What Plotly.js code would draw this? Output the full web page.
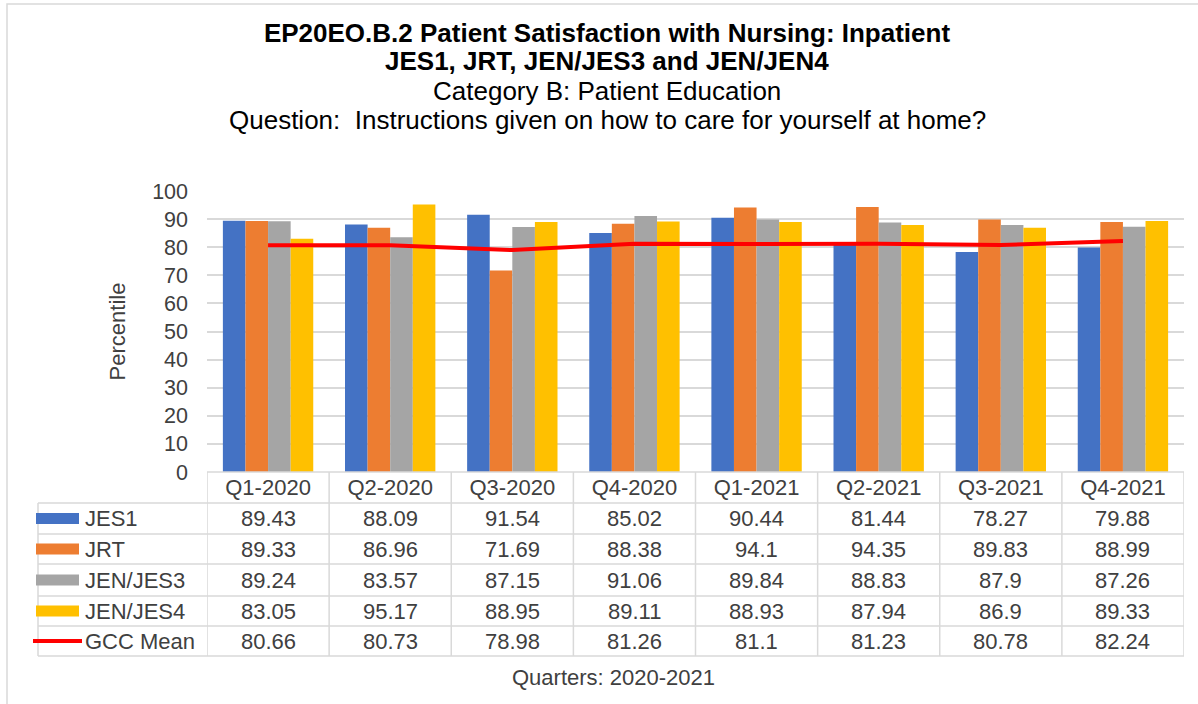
<!DOCTYPE html>
<html><head><meta charset="utf-8">
<script src="https://cdn.plot.ly/plotly-3.0.1.min.js"></script>
<style>html,body{margin:0;padding:0;background:#fff;}</style>
</head><body><div id="chart" style="width:1198px;height:704px;"></div>
<script>
const quarters = ['Q1-2020','Q2-2020','Q3-2020','Q4-2020','Q1-2021','Q2-2021','Q3-2021','Q4-2021'];
const jes1    = [89.43, 88.09, 91.54, 85.02, 90.44, 81.44, 78.27, 79.88];
const jrt     = [89.33, 86.96, 71.69, 88.38, 94.1, 94.35, 89.83, 88.99];
const jenJes3 = [89.24, 83.57, 87.15, 91.06, 89.84, 88.83, 87.9, 87.26];
const jenJes4 = [83.05, 95.17, 88.95, 89.11, 88.93, 87.94, 86.9, 89.33];
const gccMean = [80.66, 80.73, 78.98, 81.26, 81.1, 81.23, 80.78, 82.24];
const seriesNames = ['JES1', 'JRT', 'JEN/JES3', 'JEN/JES4', 'GCC Mean'];
const titleLines = [
  'EP20EO.B.2 Patient Satisfaction with Nursing: Inpatient',
  'JES1, JRT, JEN/JES3 and JEN/JEN4',
  'Category B: Patient Education',
  'Question:\u00a0 Instructions given on how to care for yourself at home?'
];
const xTitle = 'Quarters: 2020-2021';
const yTitle = 'Percentile';
const barColors = ['#4472C4', '#ED7D31', '#A5A5A5', '#FFC000'];
const lineColor = '#FF0000';

const W = 1198, H = 704;
const L = 207, R = 1184, T = 191, B = 472;
const px = x => (x - L) / (R - L);
const py = y => (B - y) / (B - T);
const gridCol = '#D9D9D9';
const textCol = '#404040';
const FONT = 'Liberation Sans, Arial, sans-serif';

const barSeries = [jes1, jrt, jenJes3, jenJes4];
const traces = barSeries.map((vals, i) => ({
  type: 'bar', x: quarters, y: vals, name: seriesNames[i],
  marker: {color: barColors[i]}, hoverinfo: 'x+y+name'
}));
traces.push({
  type: 'scatter', mode: 'lines', x: quarters, y: gccMean, name: seriesNames[4],
  line: {color: lineColor, width: 4}
});

const rowTop = [503, 534, 564, 596, 626];
const rowBot = [534, 564, 596, 626, 656];
const allSeries = [jes1, jrt, jenJes3, jenJes4, gccMean];
const shapes = [];
const annotations = [];

// outer chart border
shapes.push({type: 'rect', xref: 'paper', yref: 'paper', x0: px(7), x1: px(1210), y0: py(4), y1: py(720),
  line: {color: gridCol, width: 1.5}, fillcolor: 'rgba(0,0,0,0)', layer: 'below'});

// table horizontal lines
shapes.push({type: 'line', xref: 'paper', yref: 'paper', x0: px(207), x1: px(1184), y0: py(472), y1: py(472), line: {color: gridCol, width: 1.5}});
[503, 534, 564, 596, 626, 656].forEach(y => {
  shapes.push({type: 'line', xref: 'paper', yref: 'paper', x0: px(38), x1: px(1184), y0: py(y), y1: py(y), line: {color: gridCol, width: 1.5}});
});
// table vertical lines at category boundaries
for (let i = 0; i <= quarters.length; i++) {
  shapes.push({type: 'line', xref: 'x', yref: 'paper', x0: i - 0.5, x1: i - 0.5, y0: py(472), y1: py(656), line: {color: gridCol, width: 1.5}});
}
shapes.push({type: 'line', xref: 'paper', yref: 'paper', x0: px(38), x1: px(38), y0: py(503), y1: py(656), line: {color: gridCol, width: 1.5}});

// legend keys, series names and values
allSeries.forEach((vals, r) => {
  const yc = (rowTop[r] + rowBot[r]) / 2;
  if (r < 4) {
    shapes.push({type: 'rect', xref: 'paper', yref: 'paper', x0: px(36), x1: px(79), y0: py(yc - 5.5), y1: py(yc + 5.5),
      line: {width: 0}, fillcolor: barColors[r]});
  } else {
    shapes.push({type: 'line', xref: 'paper', yref: 'paper', x0: px(33), x1: px(82), y0: py(yc), y1: py(yc),
      line: {color: lineColor, width: 4}});
  }
  annotations.push({xref: 'paper', yref: 'paper', x: px(83), y: py(yc), xanchor: 'left', yanchor: 'middle',
    text: seriesNames[r], showarrow: false, font: {family: FONT, size: 22, color: textCol}});
  vals.forEach((v, i) => {
    annotations.push({xref: 'x', yref: 'paper', x: quarters[i], y: py(yc), xanchor: 'center', yanchor: 'middle',
      text: String(v), showarrow: false, font: {family: FONT, size: 22, color: textCol}});
  });
});

// title lines 2-4
const titleY = [33, 61, 91, 120];
for (let k = 1; k < titleLines.length; k++) {
  annotations.push({xref: 'paper', yref: 'paper', x: px(607), y: py(titleY[k]), xanchor: 'center', yanchor: 'middle',
    text: k === 1 ? '<b>' + titleLines[k] + '</b>' : titleLines[k], showarrow: false,
    font: {family: FONT, size: 26, color: '#000000'}});
}
// x axis title
annotations.push({xref: 'paper', yref: 'paper', x: px(613), y: py(677), xanchor: 'center', yanchor: 'middle',
  text: xTitle, showarrow: false, font: {family: FONT, size: 22, color: textCol}});

const layout = {
  width: W, height: H, autosize: false,
  margin: {l: L, r: W - R, t: T, b: H - B, pad: 0},
  paper_bgcolor: '#ffffff', plot_bgcolor: '#ffffff',
  font: {family: FONT, color: textCol},
  showlegend: false,
  barmode: 'group', bargap: 0.26, bargroupgap: 0,
  title: {
    text: '<b>' + titleLines[0] + '</b>',
    font: {family: FONT, size: 26, color: '#000000'},
    xref: 'container', x: 607 / W, xanchor: 'center',
    yref: 'container', y: 1 - 33 / H, yanchor: 'middle'
  },
  xaxis: {
    type: 'category', range: [-0.5, quarters.length - 0.5],
    tickmode: 'array', tickvals: quarters, ticktext: quarters,
    tickfont: {family: FONT, size: 22, color: textCol},
    showgrid: false, zeroline: false, showline: false, ticks: '', automargin: false
  },
  yaxis: {
    range: [0, 100], tickmode: 'linear', tick0: 0, dtick: 10,
    tickfont: {family: FONT, size: 21.5, color: textCol},
    showgrid: true, gridcolor: gridCol, gridwidth: 1.5,
    zeroline: false, showline: false, ticks: '', ticklabelstandoff: 18, automargin: false,
    title: {text: yTitle, font: {family: FONT, size: 22, color: textCol}, standoff: 20}
  },
  shapes: shapes,
  annotations: annotations
};

Plotly.newPlot('chart', traces, layout, {displayModeBar: false, responsive: false});
</script>
</body></html>
